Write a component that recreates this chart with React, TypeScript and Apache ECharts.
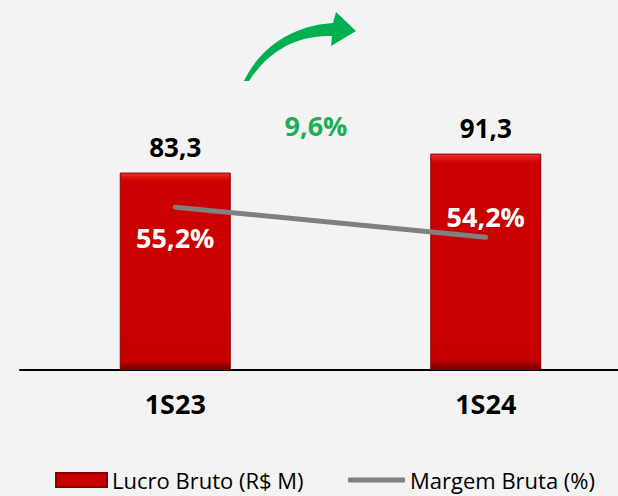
import React, { useEffect, useRef } from "react";
import * as echarts from "echarts";

const categories = ["1S23", "1S24"];
const lucroBruto = [83.3, 91.3];
const margemBruta = [55.2, 54.2];
const growthLabel = "9,6%";

const fmt = (v: number, d: number) => v.toFixed(d).replace(".", ",");

echarts.graphic.registerShape(
  "growthArrow",
  echarts.graphic.extendPath(
    "M244,81 C256,55 285,26 333,23 L336,12 L356,31 L331,46 L332,36 C292,35 266,55 249,81 Z",
    {}
  )
);

export default function App() {
  const ref = useRef<HTMLDivElement>(null);
  useEffect(() => {
    if (!ref.current) return;
    const chart = echarts.init(ref.current, null, { renderer: "svg" });
    const font = "'Open Sans', 'DejaVu Sans', sans-serif";
    const legendText = { fontSize: 22, lineHeight: 22, color: "#000", fontFamily: font };
    chart.setOption({
      animation: false,
      backgroundColor: "#f3f3f3",
      textStyle: { fontFamily: font },
      grid: {
        left: 20,
        right: -23,
        top: 133,
        bottom: 126,
        containLabel: false,
        outerBoundsMode: "none",
      },
      legend: [
        {
          data: [{ name: "Lucro Bruto (R$ M)", icon: "rect" }],
          left: 55,
          top: 469,
          padding: 0,
          itemWidth: 51,
          itemHeight: 14,
          textStyle: legendText,
        },
        {
          data: [{ name: "Margem Bruta (%)", icon: "roundRect" }],
          left: 348,
          top: 469,
          padding: 0,
          itemWidth: 57,
          itemHeight: 5,
          textStyle: legendText,
        },
      ],
      xAxis: {
        type: "category",
        data: categories,
        axisLine: { lineStyle: { color: "#000", width: 2 } },
        axisTick: { show: false },
        axisLabel: {
          margin: 20,
          fontSize: 27,
          fontWeight: "bold",
          color: "#000",
          fontFamily: font,
        },
      },
      yAxis: [
        { type: "value", min: 0, max: 100, show: false, splitLine: { show: false } },
        { type: "value", min: 49.78, max: 57.67, show: false, splitLine: { show: false } },
      ],
      series: [
        {
          name: "Lucro Bruto (R$ M)",
          type: "bar",
          data: lucroBruto,
          barWidth: 111,
          itemStyle: {
            color: new echarts.graphic.LinearGradient(0, 0, 0, 1, [
              { offset: 0, color: "#f03030" },
              { offset: 0.03, color: "#d80808" },
              { offset: 0.045, color: "#cc0000" },
              { offset: 0.955, color: "#c60000" },
              { offset: 0.975, color: "#a00000" },
              { offset: 1, color: "#6a0000" },
            ]),
            borderColor: "#8a0000",
            borderWidth: 1,
          },
          label: {
            show: true,
            position: "top",
            distance: 13,
            fontSize: 26,
            fontWeight: "bold",
            color: "#000",
            fontFamily: font,
            formatter: (p: any) => fmt(p.value, 1),
          },
          z: 2,
        },
        {
          name: "Margem Bruta (%)",
          type: "line",
          yAxisIndex: 1,
          data: [
            { value: margemBruta[0], label: { position: "bottom", distance: 17 } },
            { value: margemBruta[1], label: { position: "top", distance: 7 } },
          ],
          symbol: "circle",
          symbolSize: 0.1,
          showSymbol: true,
          lineStyle: { color: "#808080", width: 5, cap: "round" },
          itemStyle: { color: "#808080" },
          label: {
            show: true,
            fontSize: 27,
            fontWeight: "bold",
            color: "#fff",
            fontFamily: font,
            formatter: (p: any) => fmt(p.value, 1) + "%",
          },
          z: 3,
        },
      ],
      graphic: [
        {
          type: "growthArrow",
          x: 0,
          y: 0,
          style: { fill: "#00b050" },
        },
        {
          type: "text",
          x: 316,
          y: 125,
          style: {
            text: growthLabel,
            fill: "#1aaf54",
            fontSize: 27,
            fontWeight: "bold",
            fontFamily: font,
            align: "center",
            verticalAlign: "middle",
          },
        },
      ],
    });
    return () => chart.dispose();
  }, []);
  return <div ref={ref} style={{ width: 618, height: 496, position: "absolute", left: 0, top: 0 }} />;
}
